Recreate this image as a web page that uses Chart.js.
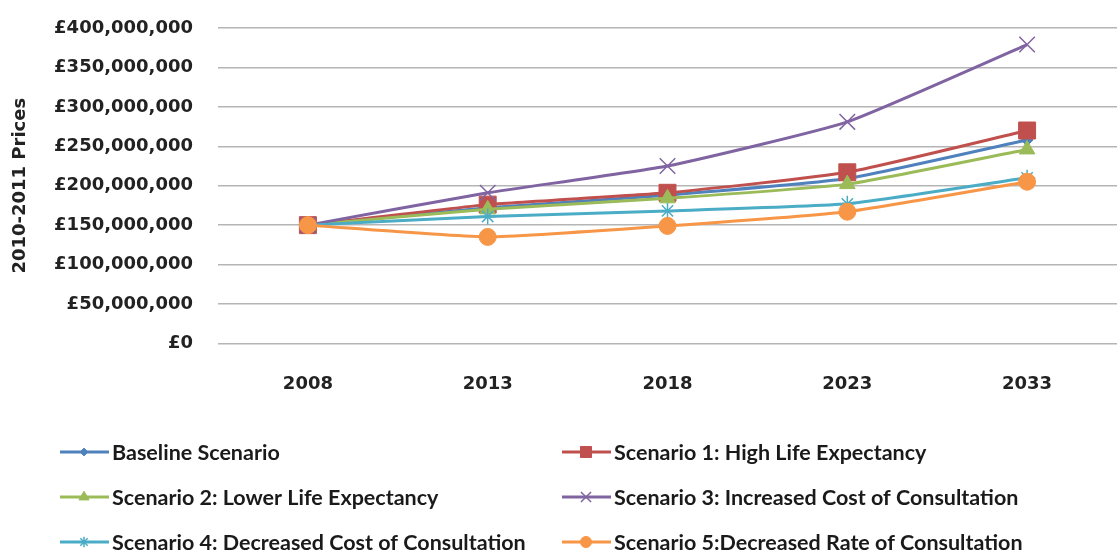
<!DOCTYPE html>
<html><head><meta charset="utf-8">
<script src="https://cdn.jsdelivr.net/npm/chart.js@4/dist/chart.umd.min.js"></script>
<style>html,body{margin:0;padding:0;background:#fff;}#wrap{width:1117px;height:554px;}</style>
</head><body><div id="wrap"><canvas id="c" width="1117" height="554"></canvas></div>
<script>
const years = ['2008', '2013', '2018', '2023', '2033'];
const seriesNames = [
  'Baseline Scenario',
  'Scenario 1: High Life Expectancy',
  'Scenario 2: Lower Life Expectancy',
  'Scenario 3: Increased Cost of Consultation',
  'Scenario 4: Decreased Cost of Consultation',
  'Scenario 5:Decreased Rate of Consultation'
];
const baseline  = [150000000, 172000000, 188000000, 209000000, 258000000];
const scenario1 = [150000000, 176000000, 191000000, 217000000, 270000000];
const scenario2 = [150000000, 170000000, 184000000, 202000000, 246000000];
const scenario3 = [150000000, 191000000, 225000000, 281000000, 379000000];
const scenario4 = [150000000, 161000000, 168000000, 177000000, 210000000];
const scenario5 = [150000000, 135000000, 149000000, 167000000, 205000000];
const yTickValues = [0, 50000000, 100000000, 150000000, 200000000, 250000000, 300000000, 350000000, 400000000];

const seriesValues = [baseline, scenario1, scenario2, scenario3, scenario4, scenario5];
const lineColors = ['#4F81BD', '#C0504D', '#9BBB59', '#8064A2', '#4BACC6', '#F79646'];
const markerStyles = ['rectRot', 'rect', 'triangle', 'crossRot', 'star', 'circle'];
const markerRadii = [6, 12, 9, 11, 8, 8.5];
const markerBorders = [1, 1, 1, 1.5, 1.5, 1];

const datasets = seriesValues.map((vals, i) => ({
  label: seriesNames[i],
  data: vals,
  borderColor: lineColors[i],
  backgroundColor: lineColors[i],
  pointBackgroundColor: lineColors[i],
  pointBorderColor: lineColors[i],
  pointBorderWidth: markerBorders[i],
  pointStyle: markerStyles[i],
  pointRadius: markerRadii[i],
  borderWidth: 3,
  tension: 0.15,
  fill: false,
  order: seriesValues.length - i
}));

const legendPlugin = {
  id: 'customLegend',
  afterDraw(chart) {
    const ctx = chart.ctx;
    const cols = [60, 562];
    const rows = [452, 497, 542];
    chart.data.datasets.forEach((ds, i) => {
      const x = cols[i % 2], y = rows[Math.floor(i / 2)];
      ctx.save();
      ctx.strokeStyle = ds.borderColor;
      ctx.lineWidth = 3;
      ctx.beginPath(); ctx.moveTo(x, y); ctx.lineTo(x + 49, y); ctx.stroke();
      ctx.fillStyle = ds.pointBackgroundColor;
      ctx.strokeStyle = ds.pointBorderColor;
      ctx.lineWidth = ds.pointBorderWidth;
      Chart.helpers.drawPoint(ctx, {pointStyle: ds.pointStyle, radius: ds.pointRadius * 0.65, rotation: 0, borderWidth: ds.pointBorderWidth}, x + 24, y);
      ctx.fillStyle = '#1a1a1a';
      ctx.font = 'bold 21.5px Lato';
      ctx.textBaseline = 'middle';
      ctx.textAlign = 'left';
      ctx.fillText(ds.label, x + 52, y + 1);
      ctx.restore();
    });
  }
};

new Chart(document.getElementById('c'), {
  type: 'line',
  data: { labels: years, datasets },
  plugins: [legendPlugin],
  options: {
    responsive: false,
    animation: false,
    devicePixelRatio: 1,
    layout: { autoPadding: false, padding: { left: 0, right: 0, top: 28, bottom: 129 } },
    plugins: { legend: { display: false }, tooltip: { enabled: false } },
    scales: {
      x: {
        offset: true,
        afterFit(scale) { scale.paddingLeft = 0; scale.paddingRight = 0; },
        grid: { display: false, drawTicks: false },
        border: { display: false },
        ticks: { color: '#222', font: { family: 'DejaVu Sans', weight: 'bold', size: 18 }, padding: 30, maxRotation: 0 }
      },
      y: {
        min: 0, max: 400000000,
        afterBuildTicks(scale) { scale.ticks = yTickValues.map(v => ({ value: v })); },
        afterFit(scale) { scale.width = 218; scale.paddingTop = 0; },
        grid: { color: '#b5b5b5', lineWidth: 1.5, drawTicks: false },
        border: { display: false },
        ticks: {
          color: '#222', padding: 25,
          font: { family: 'DejaVu Sans', weight: 'bold', size: 18 },
          callback: v => '£' + Number(v).toLocaleString('en-GB')
        },
        title: { display: true, text: '2010-2011 Prices', color: '#222', font: { family: 'DejaVu Sans', weight: 'bold', size: 18 }, padding: { top: 10, bottom: 4 } }
      }
    }
  }
});
</script></body></html>
